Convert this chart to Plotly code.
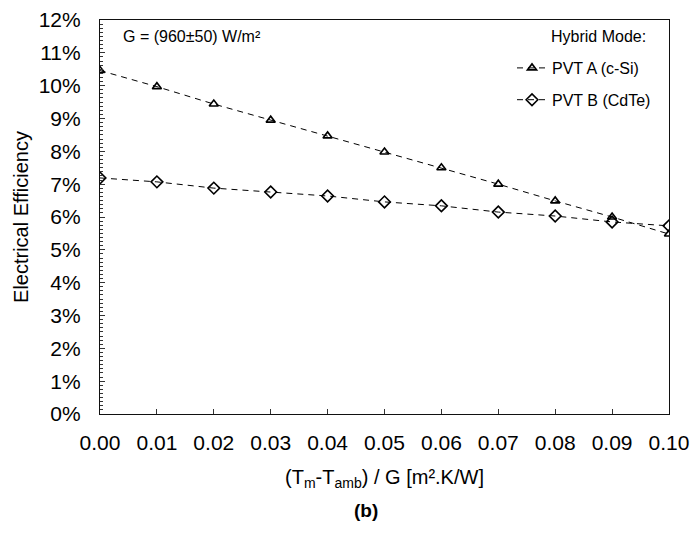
import plotly.graph_objects as go

x_vals = [0.00, 0.01, 0.02, 0.03, 0.04, 0.05, 0.06, 0.07, 0.08, 0.09, 0.10]
pvt_a = [0.1046, 0.0997, 0.0944, 0.0895, 0.0847, 0.0798, 0.0750, 0.0700, 0.0649, 0.0600, 0.0548]
pvt_b = [0.0719, 0.0707, 0.0688, 0.0676, 0.0664, 0.0646, 0.0634, 0.0615, 0.0603, 0.0585, 0.0573]
x_ticks = [0.00, 0.01, 0.02, 0.03, 0.04, 0.05, 0.06, 0.07, 0.08, 0.09, 0.10]
x_tick_text = ["0.00", "0.01", "0.02", "0.03", "0.04", "0.05", "0.06", "0.07", "0.08", "0.09", "0.10"]

FONT = "Liberation Sans, Arial, sans-serif"

L, R, T, B = 100, 25, 20, 131
W, H = 694, 545
plot_w = W - L - R
plot_h = H - T - B


def px_x(px):
    return (px - L) / plot_w


def px_y(py):
    return (H - B - py) / plot_h


fig = go.Figure()
fig.add_trace(go.Scatter(
    x=x_vals, y=pvt_a, mode="lines+markers", name="PVT A (c-Si)", legendgroup="a",
    line=dict(color="black", width=1, dash="6px,5px"),
    marker=dict(symbol="triangle-up-open", size=8, color="black", line=dict(width=1.6, color="black")),
))
fig.add_trace(go.Scatter(
    x=x_vals, y=pvt_b, mode="lines+markers", name="PVT B (CdTe)", legendgroup="b",
    line=dict(color="black", width=1, dash="6px,5px"),
    marker=dict(symbol="diamond-open", size=9, color="black", line=dict(width=1.6, color="black")),
))

fig.update_layout(
    width=W, height=H,
    margin=dict(l=L, r=R, t=T, b=B, autoexpand=False),
    paper_bgcolor="white", plot_bgcolor="white",
    font=dict(family=FONT, color="black"),
    showlegend=True,
    legend=dict(
        x=px_x(512), y=px_y(51), xanchor="left", yanchor="top",
        bgcolor="rgba(0,0,0,0)",
        font=dict(size=16, family=FONT),
        tracegroupgap=8, itemwidth=30,
    ),
    xaxis=dict(
        range=[0, 0.10], tickvals=x_ticks, ticktext=x_tick_text,
        ticks="inside", ticklen=5, tickcolor="#333", tickwidth=1,
        showline=True, linecolor="#111", linewidth=1.2, mirror=True,
        showgrid=False, zeroline=False, automargin=False,
        ticklabelstandoff=10,
        tickfont=dict(size=21, family=FONT),
        title=dict(text="(T<sub>m</sub>-T<sub>amb</sub>) / G [m².K/W]", font=dict(size=20, family=FONT), standoff=16),
    ),
    yaxis=dict(
        range=[0, 0.12], dtick=0.01, tickformat=".0%",
        ticks="inside", ticklen=5, tickcolor="#333", tickwidth=1,
        minor=dict(ticks="inside", ticklen=3, dtick=0.00125, tickcolor="#333", tickwidth=1),
        showline=True, linecolor="#111", linewidth=1.2, mirror=True,
        showgrid=False, zeroline=False, automargin=False,
        ticklabelstandoff=14,
        tickfont=dict(size=21, family=FONT),
        title=dict(text="Electrical Efficiency", font=dict(size=20, family=FONT), standoff=4),
    ),
    annotations=[
        dict(text="G = (960±50) W/m²", x=px_x(121), y=px_y(37), xref="paper", yref="paper",
             xanchor="left", yanchor="middle", showarrow=False, font=dict(size=16, family=FONT)),
        dict(text="Hybrid Mode:", x=px_x(549), y=px_y(37), xref="paper", yref="paper",
             xanchor="left", yanchor="middle", showarrow=False, font=dict(size=16, family=FONT)),
        dict(text="<b>(b)</b>", x=px_x(366), y=px_y(510), xref="paper", yref="paper",
             xanchor="center", yanchor="middle", showarrow=False, font=dict(size=19, family=FONT)),
    ],
)

fig.write_html("out.html")
